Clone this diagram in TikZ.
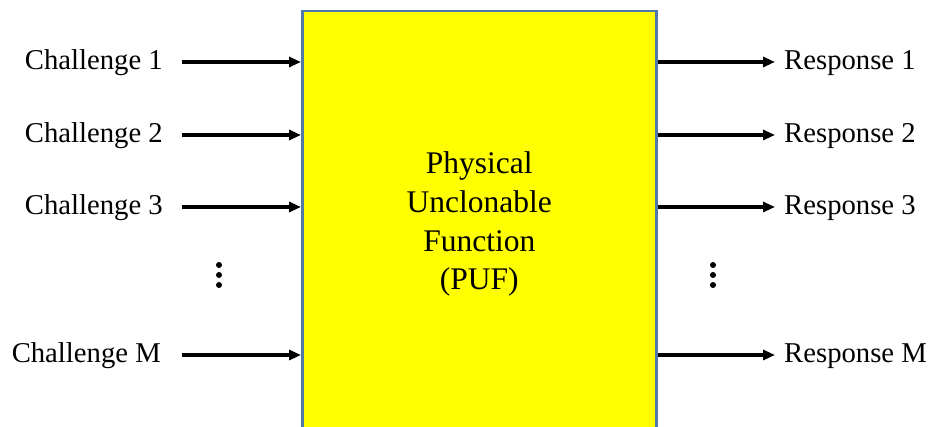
\documentclass[tikz,border=0pt]{standalone}
\usepackage{fontspec}
\setmainfont{Liberation Serif}
\usetikzlibrary{arrows.meta,positioning}
\definecolor{pufblue}{HTML}{5078A8}
\definecolor{pufyellow}{rgb}{1,1,0}

\begin{document}
\begin{tikzpicture}[x=1pt,y=-1pt,>={Triangle[length=12pt,width=10pt]},
  sig/.style={->,line width=3.3pt},
  puf node/.style={draw=pufblue,line width=2.5pt,fill=pufyellow,minimum width=354pt,minimum height=426pt,align=center,inner sep=0pt,font=\fontsize{31.5}{38.7}\selectfont},
  lbl node/.style={inner sep=0pt,font=\fontsize{28.7}{34}\selectfont}]
  \useasboundingbox (0,0) rectangle (932,427);
  \clip (0,0) rectangle (932,427);

  \node[puf node, anchor=north west] (puf) at (301,10) {Physical\\Unclonable\\Function\\(PUF)};

  \node[lbl node, anchor=base east] (c1) at (163,70) {Challenge 1};
  \node[lbl node, anchor=base east] (c2) at (163,143) {Challenge 2};
  \node[lbl node, anchor=base east] (c3) at (163,215) {Challenge 3};
  \node[lbl node, anchor=base east] (cm) at (161,363) {Challenge M};

  \node[lbl node, anchor=base west] (r1) at (784,70) {Response 1};
  \node[lbl node, anchor=base west] (r2) at (784,143) {Response 2};
  \node[lbl node, anchor=base west] (r3) at (784,215) {Response 3};
  \node[lbl node, anchor=base west] (rm) at (784,363) {Response M};

  \draw[sig] ([xshift=19pt,yshift=8pt]c1.base east) -- ([yshift=8pt]c1.base east -| puf.west);
  \draw[sig] ([xshift=19pt,yshift=8pt]c2.base east) -- ([yshift=8pt]c2.base east -| puf.west);
  \draw[sig] ([xshift=19pt,yshift=8pt]c3.base east) -- ([yshift=8pt]c3.base east -| puf.west);
  \draw[sig] ([xshift=21pt,yshift=8pt]cm.base east) -- ([yshift=8pt]cm.base east -| puf.west);

  \draw[sig] ([yshift=8pt]r1.base west -| puf.east) -- ([xshift=-9pt,yshift=8pt]r1.base west);
  \draw[sig] ([yshift=8pt]r2.base west -| puf.east) -- ([xshift=-9pt,yshift=8pt]r2.base west);
  \draw[sig] ([yshift=8pt]r3.base west -| puf.east) -- ([xshift=-9pt,yshift=8pt]r3.base west);
  \draw[sig] ([yshift=8pt]rm.base west -| puf.east) -- ([xshift=-9pt,yshift=8pt]rm.base west);

  % dots
  \fill (219,265) circle (3pt) (219,275) circle (3pt) (219,285) circle (3pt);
  \fill (713,265) circle (3pt) (713,275) circle (3pt) (713,285) circle (3pt);
\end{tikzpicture}
\end{document}
